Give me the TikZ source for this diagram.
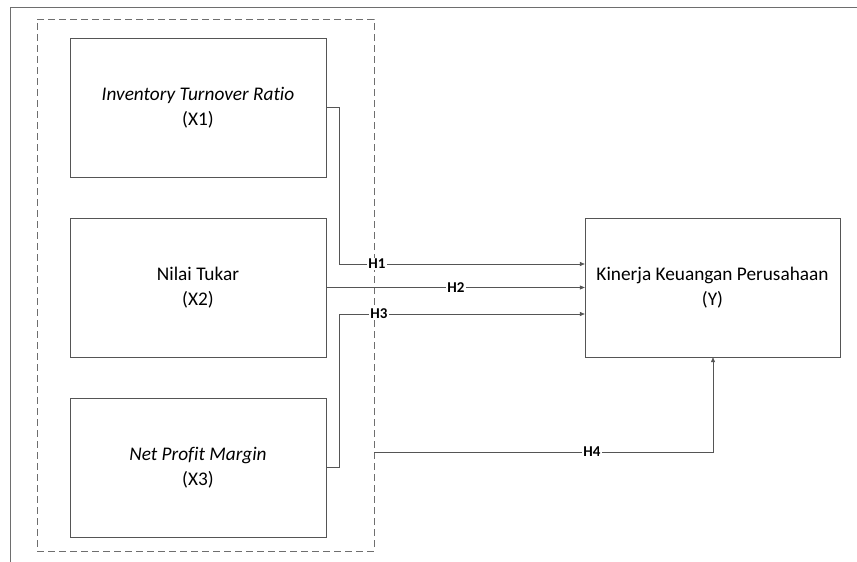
\documentclass[tikz,border=0pt]{standalone}
\usepackage{fontspec}
\setmainfont[Ligatures=NoCommon]{Carlito}
\usetikzlibrary{arrows.meta,positioning}
\definecolor{framegray}{RGB}{110,110,110}
\definecolor{linegray}{RGB}{85,85,85}

\begin{document}
\begin{tikzpicture}[
    x=1pt, y=-1pt,
    varbox/.style={rectangle,draw=linegray,minimum width=256pt,minimum height=139pt,
      inner sep=0pt,align=center,font=\fontsize{19.3}{24.5}\selectfont},
    group/.style={rectangle,draw=framegray,dashed,dash pattern=on 7pt off 4pt,
      minimum width=337pt,minimum height=532pt,inner sep=0pt},
    link/.style={draw=linegray,line width=0.6pt},
    arrow/.style={link,-{Triangle[length=5pt,width=4pt]}},
    hyp/.style={fill=white,inner sep=1pt,font=\fontsize{15}{17}\selectfont\bfseries}
  ]
    \useasboundingbox (0,0) rectangle (857,562);
    % page frame
    \draw[framegray,line width=0.6pt] (857,7) -- (10,7) -- (10,562);
    % independent variables
    \node[group] (grp) at (205.5,285) {};
    \node[varbox] (x1) at (198,107.5) {\textit{Inventory Turnover Ratio}\\(X1)};
    \node[varbox] (x2) at (198,287.5) {Nilai Tukar\\(X2)};
    \node[varbox] (x3) at (198,467.5) {\textit{Net Profit Margin}\\(X3)};
    % dependent variable
    \node[varbox,minimum width=255pt] (y) at (712.5,287.5) {Kinerja Keuangan Perusahaan\\(Y)};
    % hypotheses
    \coordinate (k1) at (339,264);
    \coordinate (k3) at (339,314);
    \coordinate (k4) at (713,452);
    \draw[arrow] (x1.east) -| (k1) -- (k1 -| y.west);
    \draw[arrow] (x2.east) -- (y.west);
    \draw[arrow] (x3.east) -| (k3) -- (k3 -| y.west);
    \draw[arrow] (k4 -| grp.east) -- (k4) -- (y.south -| k4);
    \node[hyp] (h1) at (377,264) {H1};
    \node[hyp] (h2) at (456,287.5) {H2};
    \node[hyp] (h3) at (379,314) {H3};
    \node[hyp] (h4) at (592,452) {H4};
\end{tikzpicture}
\end{document}
